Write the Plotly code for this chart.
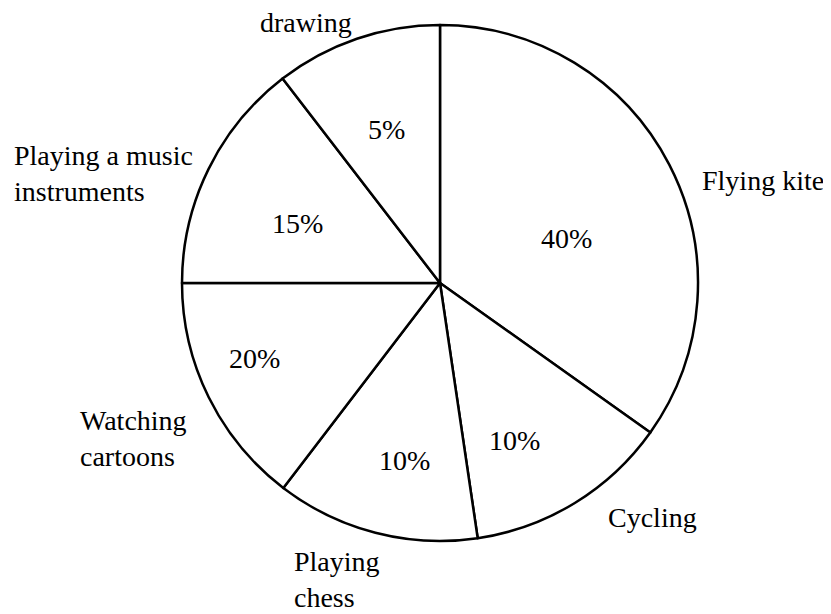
import plotly.graph_objects as go

W, H = 831, 614
OFF = 8  # page body margin offset (pixels)

# Categories in drawing order (clockwise from 12 o'clock)
categories = ["Flying kite", "Cycling", "Playing chess", "Watching cartoons",
              "Playing a music instruments", "drawing"]
# Angular sizes as drawn in the picture (degrees)
drawn_sizes = [125.4, 46.2, 45.8, 52.6, 52.4, 37.6]
# Percentages written on the slices
pct_labels = ["40%", "10%", "10%", "20%", "15%", "5%"]
# Outside label texts
outside_text = ["Flying kite", "Cycling", "Playing<br>chess", "Watching<br>cartoons",
                "Playing a music<br>instruments", "drawing"]

# Label placements (pixels in the target picture)
pct_pos = [(566, 239), (514, 440), (404, 460), (254, 358), (297, 224), (386, 130)]
out_pos = [(700, 180, "left"), (606, 517, "left"), (292, 579, "left"),
           (78, 438, "left"), (12, 173, "left"), (258, 22, "left")]

cx, cy, r = 440, 283, 258


def px2paper(px, py):
    return (px - OFF) / W, 1 - (py - OFF) / H


x0, y0 = px2paper(cx - r, cy + r)
x1, y1 = px2paper(cx + r, cy - r)

fig = go.Figure(go.Pie(
    values=drawn_sizes,
    labels=categories,
    sort=False,
    direction="clockwise",
    rotation=0,
    textinfo="none",
    hoverinfo="skip",
    marker=dict(colors=["white"] * len(categories), line=dict(color="black", width=2.5)),
    domain=dict(x=[x0, x1], y=[y0, y1]),
    showlegend=False,
))

font = dict(family="Liberation Serif, Times New Roman, serif", size=28, color="black")
annotations = []
for t, (px, py) in zip(pct_labels, pct_pos):
    ax, ay = px2paper(px, py)
    annotations.append(dict(x=ax, y=ay, xref="paper", yref="paper",
                            text=t, showarrow=False, xanchor="center", yanchor="middle",
                            font=font))
for t, (px, py, al) in zip(outside_text, out_pos):
    ax, ay = px2paper(px, py)
    annotations.append(dict(x=ax, y=ay, xref="paper", yref="paper",
                            text=t, showarrow=False, xanchor=al, yanchor="middle",
                            align=al, font=font))

fig.update_layout(
    width=W, height=H,
    margin=dict(l=0, r=0, t=0, b=0),
    paper_bgcolor="white", plot_bgcolor="white",
    annotations=annotations,
)

fig.write_html("out.html")
